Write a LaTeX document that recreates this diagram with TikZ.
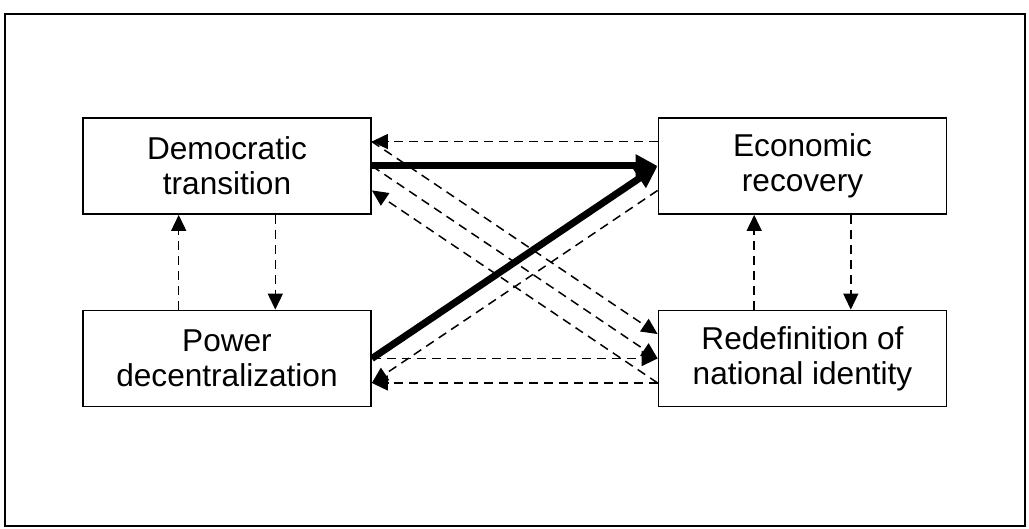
\documentclass[tikz,border=0pt]{standalone}
\usepackage{fontspec}
\setmainfont{Liberation Sans}
\usetikzlibrary{arrows.meta,calc}

\begin{document}
\begin{tikzpicture}[x=0.5pt,y=-0.5pt,
  box/.style={rectangle,draw,line width=0.9pt,minimum width=144pt,minimum height=48pt,align=center,inner sep=0pt,font=\fontsize{15.8}{17.5}\selectfont},
  weak/.style={dash pattern=on 4.5pt off 3pt,line width=0.75pt,-{Triangle[length=8pt,width=7.5pt]}},
  strong/.style={line width=3.5pt,-{Triangle[length=11pt,width=11pt]}}]
\useasboundingbox (0,0) rectangle (1029,529);
\draw[line width=1pt] (5,14) rectangle (1025,526);

\node[box] (dem) at (227,166) {Democratic\\transition};
\node[box] (eco) at (802.5,166) {Economic\\recovery};
\node[box] (pow) at (227,358.5) {Power\\decentralization};
\node[box] (red) at (802.5,358.5) {Redefinition of\\national identity};

% points on the inner sides
\coordinate (dem1) at ($(dem.north east)!.25!(dem.south east)$);
\coordinate (dem2) at (dem.east);
\coordinate (dem3) at ($(dem.north east)!.75!(dem.south east)$);
\coordinate (eco1) at ($(eco.north west)!.25!(eco.south west)$);
\coordinate (eco2) at (eco.west);
\coordinate (eco3) at ($(eco.north west)!.75!(eco.south west)$);
\coordinate (pow1) at ($(pow.north east)!.25!(pow.south east)$);
\coordinate (pow2) at (pow.east);
\coordinate (pow3) at ($(pow.north east)!.75!(pow.south east)$);
\coordinate (red1) at ($(red.north west)!.25!(red.south west)$);
\coordinate (red2) at (red.west);
\coordinate (red3) at ($(red.north west)!.75!(red.south west)$);

\draw[weak] (eco1) -- (dem1);
\draw[weak] (dem1) -- (red1);
\draw[weak] (dem2) -- (red2);
\draw[weak] (red3) -- (dem3);
\draw[weak] (eco3) -- (pow3);
\draw[weak] (pow2) -- (red2);
\draw[weak] (red3) -- (pow3);

% vertical links
\draw[weak] ($(pow.north west)!1/3!(pow.north east)$) -- ($(dem.south west)!1/3!(dem.south east)$);
\draw[weak] ($(dem.south west)!2/3!(dem.south east)$) -- ($(pow.north west)!2/3!(pow.north east)$);
\draw[weak] ($(red.north west)!1/3!(red.north east)$) -- ($(eco.south west)!1/3!(eco.south east)$);
\draw[weak] ($(eco.south west)!2/3!(eco.south east)$) -- ($(red.north west)!2/3!(red.north east)$);

\draw[strong] (dem2) -- (eco2);
\draw[strong] (pow2) -- (eco2);
\end{tikzpicture}
\end{document}
